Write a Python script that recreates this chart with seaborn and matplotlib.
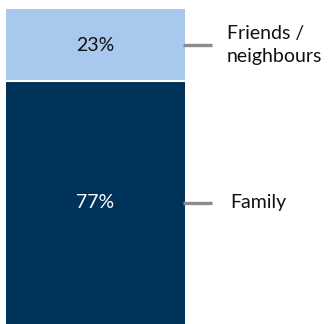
import matplotlib
matplotlib.use("Agg")
import matplotlib.pyplot as plt
import seaborn as sns
import pandas as pd

categories = ["Friends /\nneighbours", "Family"]
values = [23, 77]
colors = ["#A9C8EE", "#003359"]

sns.set_style("white")
plt.rcParams['font.family'] = ['Lato', 'DejaVu Sans']

W, H = 335, 324
fig = plt.figure(figsize=(W / 100, H / 100), dpi=100)
ax = fig.add_axes([6 / W, 0, 179 / W, 315 / H])

total = sum(values)
df_top = pd.DataFrame({"x": ["all"], "y": [total]})
df_bot = pd.DataFrame({"x": ["all"], "y": [values[1]]})
sns.barplot(data=df_top, x="x", y="y", color=colors[0], saturation=1, width=1.0, ax=ax,
            linewidth=0)
sns.barplot(data=df_bot, x="x", y="y", color=colors[1], saturation=1, width=1.0, ax=ax,
            linewidth=0)
ax.axhline(values[1], color="white", lw=1.5)

ax.set_xlim(-0.5, 0.5)
ax.set_ylim(0, total)
ax.axis("off")

bottoms = [values[1], 0]
text_colors = ["#111111", "white"]
label_x = [1 + 42 / 179, 1 + 45 / 179]
for cat, v, b, tc, lx in zip(categories, values, bottoms, text_colors, label_x):
    yc = b + v / 2
    ax.text(0, yc, f"{v}%", ha="center", va="center", color=tc, fontsize=14)
    ax.plot([0.49, 0.5 + 27 / 179], [yc, yc], color="#8c8c8c", lw=2.4, clip_on=False,
            solid_capstyle="butt")
    ax.text(lx - 0.5, yc, cat, ha="left", va="center", color="#111111", fontsize=14,
            linespacing=1.45)

fig.savefig("out.png", dpi=100)
